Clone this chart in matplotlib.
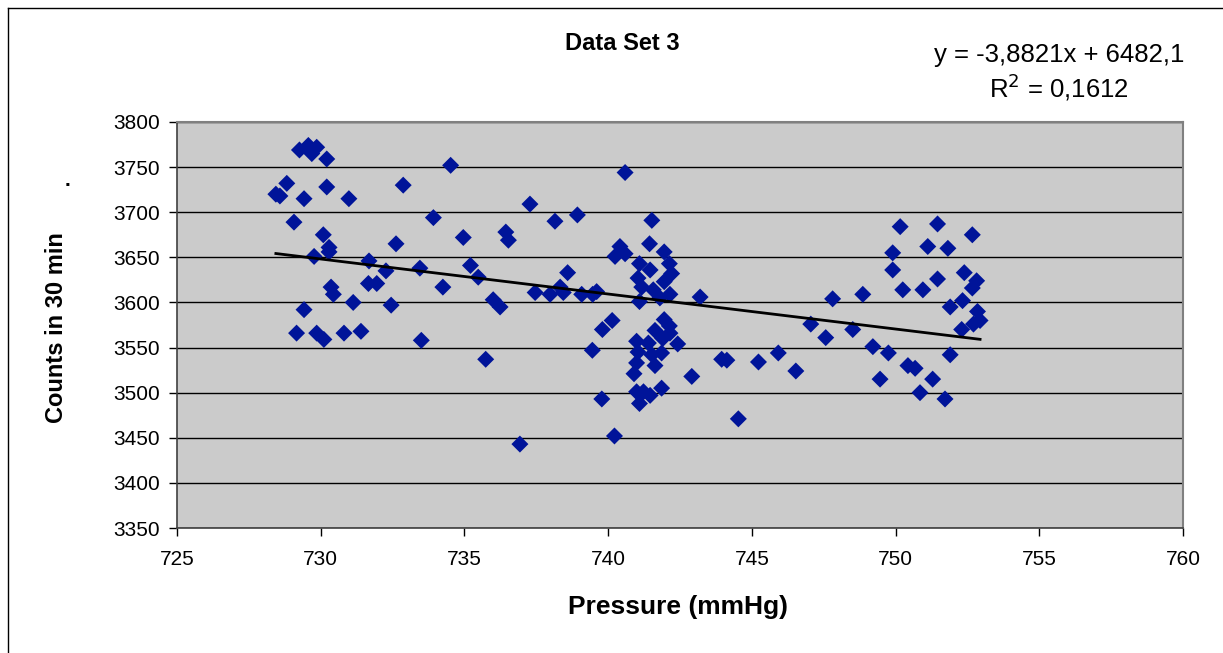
import numpy as np
import matplotlib
matplotlib.use('Agg')
import matplotlib.pyplot as plt
from matplotlib.lines import Line2D

plt.rcParams['font.family'] = ['Liberation Sans', 'DejaVu Sans']

# pressure (mmHg) and counts in 30 min
pressure = [
    728.44, 728.58, 728.82, 729.07, 729.16, 729.26, 729.42, 729.42, 729.57, 729.69,
    729.77, 729.86, 729.86, 730.09, 730.11, 730.21, 730.21, 730.29, 730.29, 730.36,
    730.44, 730.81, 730.98, 731.13, 731.40, 731.66, 731.68, 731.95, 732.27, 732.45,
    732.62, 732.87, 733.45, 733.50, 733.92, 734.25, 734.52, 734.96, 735.21, 735.48,
    735.74, 736.00, 736.24, 736.44, 736.53, 736.93, 737.28, 737.46, 737.98, 738.15,
    738.33, 738.44, 738.59, 738.93, 739.08, 739.45, 739.46, 739.60, 739.80, 739.78,
    740.14, 740.22, 740.24, 740.41, 740.59, 740.59, 740.90, 740.99, 740.99, 740.99,
    741.04, 741.04, 741.09, 741.09, 741.09, 741.17, 741.23, 741.40, 741.44, 741.46,
    741.46, 741.52, 741.52, 741.57, 741.63, 741.63, 741.80, 741.86, 741.86, 741.95,
    741.95, 741.95, 742.13, 742.15, 742.15, 742.21, 742.42, 742.91, 743.20, 743.95,
    744.13, 744.53, 745.23, 745.92, 746.53, 747.05, 747.57, 747.81, 748.51, 748.86,
    749.21, 749.46, 749.75, 749.90, 749.90, 750.16, 750.25, 750.43, 750.68, 750.85,
    750.95, 751.12, 751.29, 751.46, 751.46, 751.72, 751.82, 751.90, 751.90, 752.30,
    752.33, 752.39, 752.67, 752.67, 752.71, 752.82, 752.85, 752.94, 741.90, 742.13,
]
counts = [
    3720, 3718, 3732, 3689, 3566, 3769, 3715, 3592, 3774, 3765,
    3651, 3772, 3566, 3675, 3559, 3759, 3728, 3661, 3656, 3617,
    3609, 3566, 3715, 3600, 3568, 3621, 3646, 3621, 3635, 3597,
    3665, 3730, 3638, 3558, 3694, 3617, 3752, 3672, 3641, 3628,
    3537, 3603, 3595, 3678, 3669, 3443, 3709, 3611, 3609, 3690,
    3617, 3611, 3633, 3697, 3609, 3547, 3609, 3612, 3570, 3493,
    3580, 3452, 3651, 3662, 3654, 3744, 3521, 3557, 3533, 3501,
    3627, 3545, 3643, 3601, 3488, 3617, 3501, 3555, 3665, 3636,
    3497, 3691, 3542, 3614, 3569, 3530, 3605, 3544, 3505, 3656,
    3623, 3581, 3643, 3609, 3566, 3632, 3554, 3518, 3606, 3537,
    3536, 3471, 3534, 3544, 3524, 3576, 3561, 3604, 3570, 3609,
    3551, 3515, 3544, 3655, 3636, 3684, 3614, 3530, 3527, 3500,
    3614, 3662, 3515, 3687, 3626, 3493, 3660, 3595, 3542, 3570,
    3602, 3633, 3675, 3616, 3576, 3624, 3590, 3580, 3560, 3574,
]

# linear trendline as given on the chart
slope = -3.8821
intercept = 6482.1
r_squared = 0.1612

x_ticks = [725, 730, 735, 740, 745, 750, 755, 760]
y_ticks = [3350, 3400, 3450, 3500, 3550, 3600, 3650, 3700, 3750, 3800]

fig = plt.figure(figsize=(12.23, 6.53), dpi=100)
ax = fig.add_axes([177 / 1223, 1 - 528 / 653, (1183 - 177) / 1223, (528 - 122) / 653])
ax.set_facecolor('#cbcbcb')

ax.set_xlim(725, 760)
ax.set_ylim(3350, 3800)
ax.set_xticks(x_ticks)
ax.set_yticks(y_ticks)
ax.tick_params(labelsize=15, length=6, width=1, color='black', pad=6)
ax.tick_params(axis='x', pad=10)
ax.yaxis.grid(True, color='black', linewidth=1)
ax.set_axisbelow(True)
for side in ['top', 'right']:
    ax.spines[side].set_color('#808080')
    ax.spines[side].set_linewidth(1.5)
for side in ['left', 'bottom']:
    ax.spines[side].set_color('#404040')
    ax.spines[side].set_linewidth(1.2)

ax.scatter(pressure, counts, marker='D', s=75, color='#001499', edgecolors='none', zorder=3)

xs = np.array([min(pressure), max(pressure)])
ax.plot(xs, slope * xs + intercept, color='black', linewidth=2, zorder=4)

fig.text(678 / 1223, 1 - 607 / 653, 'Pressure (mmHg)', fontsize=19, fontweight='bold',
         ha='center', va='center')
fig.text(57 / 1223, 1 - 328 / 653, 'Counts in 30 min', fontsize=17, fontweight='bold',
         ha='center', va='center', rotation=90)

fig.text(622 / 1223, 1 - 43 / 653, 'Data Set 3', fontsize=17, fontweight='bold',
         ha='center', va='center')
fig.text(1059 / 1223, 1 - 55 / 653, 'y = -3,8821x + 6482,1', fontsize=18.5,
         ha='center', va='center')
fig.text(1059 / 1223, 1 - 87 / 653, 'R$^2$ = 0,1612', fontsize=18.5,
         ha='center', va='center')
fig.text(67 / 1223, 1 - 180 / 653, '.', fontsize=15, fontweight='bold',
         ha='center', va='center')

# chart frame edges
fig.add_artist(Line2D([8 / 1223, 8 / 1223], [0, 1 - 8 / 653], transform=fig.transFigure,
                      color='black', linewidth=1))
fig.add_artist(Line2D([8 / 1223, 1], [1 - 8 / 653, 1 - 8 / 653], transform=fig.transFigure,
                      color='black', linewidth=1))

fig.savefig('out.png', dpi=100, facecolor='white')
